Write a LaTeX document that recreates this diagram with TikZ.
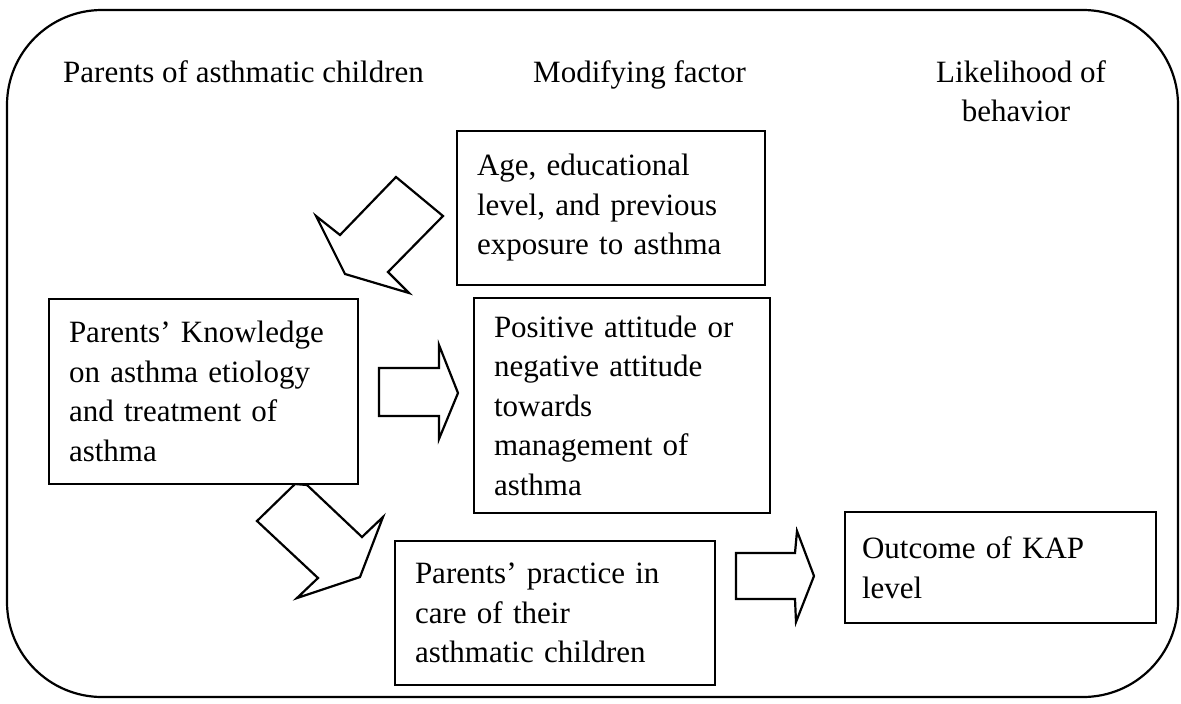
\documentclass[tikz,border=0pt]{standalone}
\usepackage{fontspec}
\setmainfont{Liberation Serif}
\begin{document}
\begin{tikzpicture}[x=1pt,y=-1pt,
  box/.style={draw=black, line width=1.8pt, fill=white, align=left, inner xsep=20pt, inner ysep=0pt,
    font=\fontsize{31}{39.5}\selectfont},
  head/.style={font=\fontsize{31}{39.5}\selectfont, inner sep=0pt},
  blockarrow/.style={draw=black, line width=2.2pt, fill=white, line join=miter}]
\useasboundingbox (0,0) rectangle (1181,704);
\draw[line width=2.2pt, rounded corners=95pt] (7,10) rectangle (1178,697);

% headers
\node[head, anchor=base west] (h1) at (63,82) {Parents of asthmatic children};
\node[head, anchor=base west] (h2) at (533,82) {Modifying factor};
\node[head, anchor=base] (h3) at (1021,82) {Likelihood of};
\node[head, anchor=base] (h4) at (1016,121) {behavior};

% block arrows
\draw[blockarrow] (396,177) -- (443,216) -- (388,272) -- (409,293) -- (345,274) -- (316,216) -- (340,235) -- cycle;
\draw[blockarrow] (379,368) -- (439,368) -- (439,345) -- (458,393) -- (439,439) -- (439,416) -- (379,416) -- cycle;
\draw[blockarrow] (295,484) -- (257,521) -- (318,578) -- (297,598) -- (360,577) -- (383,517) -- (362,537) -- (307,485) -- cycle;
\draw[blockarrow] (736,553) -- (795,553) -- (797,531) -- (814,576) -- (796,622) -- (795,599) -- (736,599) -- cycle;

% boxes
\node[box, minimum width=308pt, minimum height=154pt, text width=268pt] (age) at (611,208)
  {Age, educational\\level, and previous\\exposure to asthma};
\node[box, minimum width=309pt, minimum height=185pt, text width=269pt] (know) at (203.5,391.5)
  {Parents’ Knowledge\\on asthma etiology\\and treatment of\\asthma};
\node[box, minimum width=296pt, minimum height=215pt, text width=256pt] (att) at (622,405.5)
  {Positive attitude or\\negative attitude\\towards\\management of\\asthma};
\node[box, minimum width=320pt, minimum height=144pt, text width=280pt] (prac) at (555,613)
  {Parents’ practice in\\care of their\\asthmatic children};
\node[box, inner xsep=17pt, minimum width=311pt, minimum height=111pt, text width=277pt] (out) at (1000.5,567.5)
  {Outcome of KAP\\level};
\end{tikzpicture}
\end{document}
